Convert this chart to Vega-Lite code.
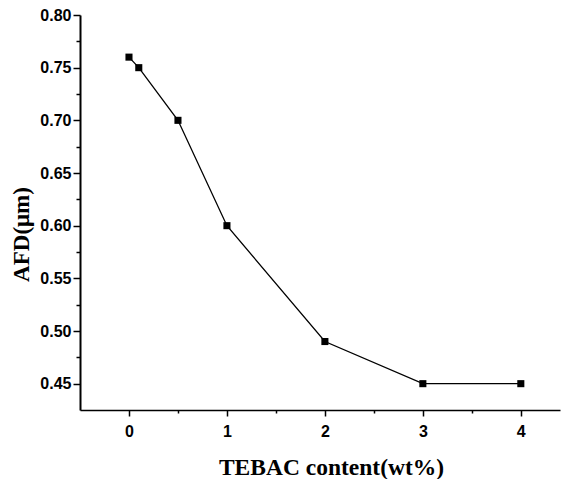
{
  "$schema": "https://vega.github.io/schema/vega-lite/v6.json",
  "width": 480,
  "height": 395,
  "autosize": {"type": "none"},
  "padding": {"left": 80, "top": 15, "right": 8, "bottom": 69},
  "background": "white",
  "config": {"view": {"stroke": null}},
  "data": {"values": [
    {"x": 0, "y": 0.76},
    {"x": 0.1, "y": 0.75},
    {"x": 0.5, "y": 0.70},
    {"x": 1, "y": 0.60},
    {"x": 2, "y": 0.49},
    {"x": 3, "y": 0.45},
    {"x": 4, "y": 0.45}
  ]},
  "resolve": {"axis": {"x": "independent", "y": "independent"}},
  "layer": [
    {
      "mark": {"type": "line", "color": "black", "strokeWidth": 1.3},
      "encoding": {
        "x": {"field": "x", "type": "quantitative",
          "scale": {"domain": [-0.5, 4.4], "nice": false, "zero": false},
          "axis": {
            "orient": "bottom",
            "title": "TEBAC content(wt%)",
            "titleFont": "Liberation Serif", "titleFontSize": 23.5, "titleFontWeight": "bold", "titleColor": "#000000",
            "titleX": 251, "titleY": 64, "titleBaseline": "alphabetic", "titleAlign": "center",
            "values": [0, 1, 2, 3, 4],
            "format": "d",
            "labelFont": "Liberation Sans", "labelFontSize": 16, "labelFontWeight": "bold", "labelColor": "#000000",
            "labelPadding": 7,
            "tickSize": 6,
            "tickColor": "#000000", "tickWidth": 1.5,
            "domainColor": "#000000", "domainWidth": 1.5,
            "grid": false
          }},
        "y": {"field": "y", "type": "quantitative",
          "scale": {"domain": [0.425, 0.80], "nice": false, "zero": false},
          "axis": {
            "orient": "left",
            "title": "AFD(μm)",
            "titleFont": "Liberation Serif", "titleFontSize": 23, "titleFontWeight": "bold", "titleColor": "#000000",
            "titleX": -52, "titleY": 219, "titleBaseline": "alphabetic", "titleAlign": "center", "titleAngle": 270,
            "values": [0.45, 0.5, 0.55, 0.6, 0.65, 0.7, 0.75, 0.8],
            "format": ".2f",
            "labelFont": "Liberation Sans", "labelFontSize": 16, "labelFontWeight": "bold", "labelColor": "#000000",
            "labelPadding": 2,
            "tickSize": 7,
            "tickColor": "#000000", "tickWidth": 1.5,
            "domainColor": "#000000", "domainWidth": 2,
            "grid": false
          }}
      }
    },
    {
      "mark": {"type": "square", "color": "black", "filled": true, "opacity": 1, "size": 50},
      "encoding": {
        "x": {"field": "x", "type": "quantitative",
          "axis": {
            "orient": "bottom", "title": null, "labels": false, "domain": false,
            "values": [0.5, 1.5, 2.5, 3.5],
            "tickSize": 3, "tickColor": "#000000", "tickWidth": 1.5, "grid": false
          }},
        "y": {"field": "y", "type": "quantitative",
          "axis": {
            "orient": "left", "title": null, "labels": false, "domain": false,
            "values": [0.475, 0.525, 0.575, 0.625, 0.675, 0.725, 0.775],
            "tickSize": 4, "tickColor": "#000000", "tickWidth": 1.5, "grid": false
          }}
      }
    }
  ]
}
